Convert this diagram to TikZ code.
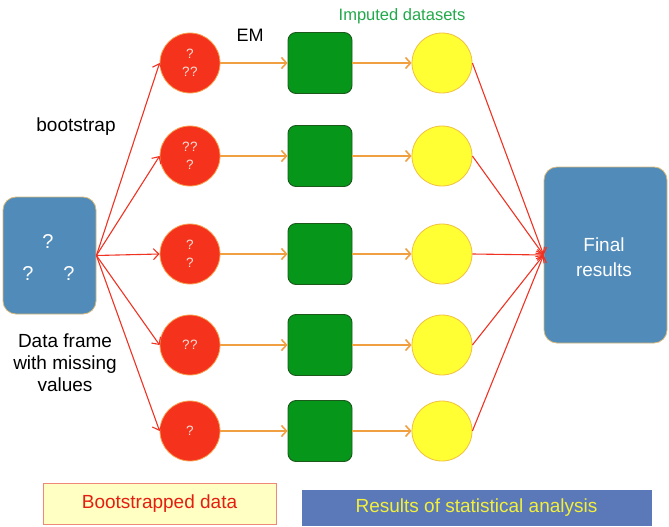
\documentclass[tikz,border=0pt]{standalone}
\usepackage{fontspec}
\setmainfont{Liberation Sans}
\usetikzlibrary{arrows.meta}
\definecolor{boxblue}{HTML}{508BB9}
\definecolor{boxedge}{HTML}{D8B878}
\definecolor{redfill}{HTML}{F5321C}
\definecolor{rededge}{HTML}{F8A050}
\definecolor{qmark}{HTML}{FBE0D8}
\definecolor{greenfill}{HTML}{05961A}
\definecolor{greenedge}{HTML}{1C5A1C}
\definecolor{yelfill}{HTML}{FFFF33}
\definecolor{yeledge}{HTML}{F0C040}
\definecolor{orangeline}{HTML}{F0A040}
\definecolor{redline}{HTML}{F03222}
\definecolor{imputegreen}{HTML}{22A84A}
\definecolor{legyel}{HTML}{FFFFC4}
\definecolor{legyeledge}{HTML}{F08878}
\definecolor{legred}{HTML}{E41E10}
\definecolor{legblue}{HTML}{5B78B8}
\definecolor{legtext}{HTML}{F2F03A}
\tikzset{
  bluebox/.style={draw=boxedge, line width=0.8pt, fill=boxblue, rounded corners=13pt, text=white, align=center},
  redc/.style={circle, draw=rededge, line width=0.8pt, fill=redfill, minimum size=60pt, inner sep=0pt, text=qmark, font=\fontsize{13.5}{18}\selectfont, align=center},
  greensq/.style={draw=greenedge, line width=0.9pt, fill=greenfill, minimum width=64pt, minimum height=61pt, rounded corners=8pt, inner sep=0pt},
  yelc/.style={circle, draw=yeledge, line width=0.8pt, fill=yelfill, minimum size=60pt, inner sep=0pt},
  orarr/.style={draw=orangeline, line width=1.6pt, -{Straight Barb[length=5pt,width=11pt]}},
  redarr/.style={draw=redline, line width=1.1pt, -{Straight Barb[length=5.5pt,width=11pt]}},
  lab/.style={font=\fontsize{19}{21}\selectfont, align=center, inner sep=0pt}
}
\begin{document}
\begin{tikzpicture}[x=1pt,y=-1pt]
\useasboundingbox (0,0) rectangle (669,527);

% data frame
\node[bluebox, minimum width=93pt, minimum height=117pt] (df) at (49.5,255.5) {};
\node[text=white, font=\fontsize{20}{24}\selectfont, inner sep=0pt] (q1) at (48,242) {?};
\node[text=white, font=\fontsize{20}{24}\selectfont, inner sep=0pt] (q2) at (28,274) {?};
\node[text=white, font=\fontsize{20}{24}\selectfont, inner sep=0pt] (q3) at (69,274) {?};

% final results
\node[bluebox, minimum width=123pt, minimum height=176pt] (fin) at (605.5,255) {};
\node[text=white, font=\fontsize{19}{25}\selectfont, align=center, inner sep=0pt] (fintext) at (604,257) {Final\\results};

% bootstrapped data
\node[redc] (r1) at (190,63) {?\\?\kern0.5pt?};
\node[redc] (r2) at (190,156) {?\kern0.5pt?\\?};
\node[redc] (r3) at (190,254) {?\\?};
\node[redc] (r4) at (190,345) {?\kern0.5pt?};
\node[redc] (r5) at (190,431) {?};

% imputed datasets
\node[greensq] (g1) at (320,63) {};
\node[greensq] (g2) at (320,156) {};
\node[greensq] (g3) at (320,254) {};
\node[greensq] (g4) at (320,345) {};
\node[greensq] (g5) at (320,431) {};

% results
\node[yelc] (y1) at (442,63) {};
\node[yelc] (y2) at (442,156) {};
\node[yelc] (y3) at (442,254) {};
\node[yelc] (y4) at (442,345) {};
\node[yelc] (y5) at (442,431) {};

% arrows
\foreach \i in {1,...,5}{
  \draw[redarr] (df.east) -- (r\i.west);
  \draw[orarr] (r\i) -- (g\i);
  \draw[orarr] (g\i) -- (y\i);
  \draw[redarr] (y\i.east) -- (fin.west);
}

% labels
\node[lab, font=\fontsize{18}{21}\selectfont] (em) at (250,35) {EM};
\node[lab, text=imputegreen, font=\fontsize{16.5}{20}\selectfont] (imp) at (402,16) {Imputed datasets};
\node[lab] (boot) at (76,127) {bootstrap};
\node[lab, font=\fontsize{19}{22}\selectfont] (dfl) at (65,363) {Data frame\\with missing\\values};

% legend
\node[draw=legyeledge, line width=0.8pt, fill=legyel, minimum width=233pt, minimum height=41pt, inner sep=0pt, text=legred, font=\fontsize{19}{22}\selectfont] (leg1) at (159.5,503.5) {Bootstrapped data};
\node[draw=legblue, fill=legblue, minimum width=349pt, minimum height=35pt, inner sep=0pt, text=legtext, font=\fontsize{19}{22}\selectfont] (leg2) at (476.5,507.5) {Results of statistical analysis};
\end{tikzpicture}
\end{document}
